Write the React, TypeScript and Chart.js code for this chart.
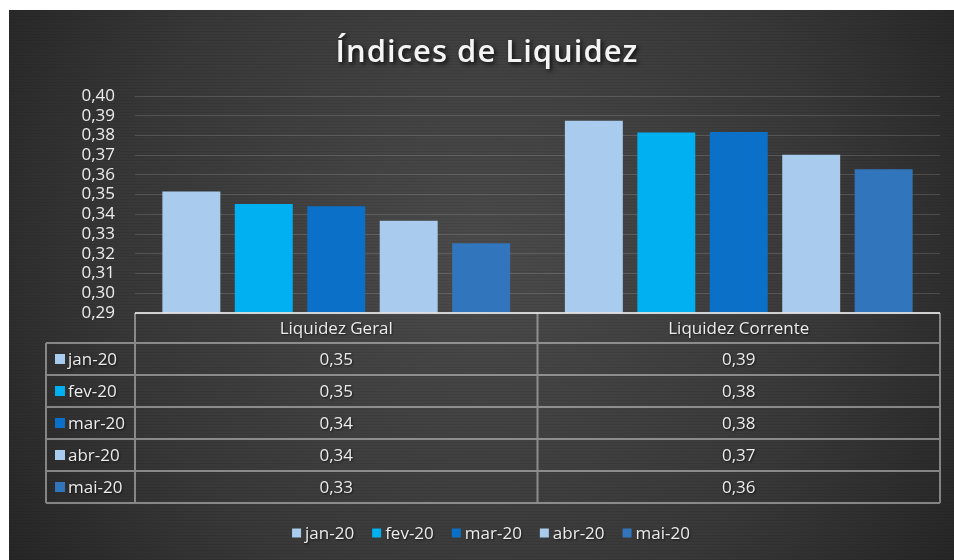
import React, { useEffect, useRef } from "react";
import { Chart, registerables } from "chart.js";

Chart.register(...registerables);

const TITLE = "Índices de Liquidez";
const categories = ["Liquidez Geral", "Liquidez Corrente"];
const seriesLabels = ["jan-20", "fev-20", "mar-20", "abr-20", "mai-20"];
const jan20 = [0.3516, 0.3875];
const fev20 = [0.3452, 0.3815];
const mar20 = [0.3441, 0.3817];
const abr20 = [0.3367, 0.3702];
const mai20 = [0.3254, 0.3629];
const seriesValues = [jan20, fev20, mar20, abr20, mai20];
const seriesColors = ["#A9CBEE", "#00B0F0", "#0A70C8", "#A9CBEE", "#3176BD"];
const yMin = 0.29;
const yMax = 0.4;
const yStep = 0.01;

const FONT = '"Open Sans", "DejaVu Sans", sans-serif';
const fmt = (v: number) => v.toFixed(2).replace(".", ",");

const bgPlugin = {
  id: "bgPlugin",
  beforeDraw(chart: any) {
    const { ctx, width, height } = chart;
    ctx.save();
    const g = ctx.createRadialGradient(width * 0.5, height * 0.45, 20, width * 0.5, height * 0.45, width * 0.62);
    g.addColorStop(0, "#4a4a4a");
    g.addColorStop(0.6, "#383838");
    g.addColorStop(1, "#242424");
    ctx.fillStyle = g;
    ctx.fillRect(0, 0, width, height);
    ctx.fillStyle = "rgba(0,0,0,0.06)";
    for (let y = 0; y < height; y += 3) {
      ctx.fillRect(0, y, width, 1);
    }
    ctx.restore();
  },
};

const tablePlugin = {
  id: "tablePlugin",
  afterDraw(chart: any) {
    const { ctx, chartArea } = chart;
    const { left, right, bottom } = chartArea;
    const keyLeft = 37;
    const headerH = 30;
    const rowH = 32;
    const n = categories.length;
    const colW = (right - left) / n;
    const tableBottom = bottom + headerH + rowH * seriesLabels.length;

    ctx.save();
    // title
    ctx.font = `600 31px ${FONT}`;
    (ctx as any).letterSpacing = "1px";
    ctx.textAlign = "center";
    ctx.textBaseline = "alphabetic";
    ctx.shadowColor = "rgba(0,0,0,0.8)";
    ctx.shadowBlur = 4;
    ctx.shadowOffsetX = 2;
    ctx.shadowOffsetY = 2;
    ctx.fillStyle = "#f4f4f4";
    ctx.fillText(TITLE, 478, 52);
    (ctx as any).letterSpacing = "0px";
    ctx.shadowColor = "transparent";
    ctx.shadowBlur = 0;
    ctx.shadowOffsetX = 0;
    ctx.shadowOffsetY = 0;

    // table lines
    ctx.strokeStyle = "rgba(205,205,205,0.55)";
    ctx.lineWidth = 2;
    ctx.beginPath();
    for (let i = 0; i <= seriesLabels.length; i++) {
      const y = bottom + headerH + i * rowH;
      ctx.moveTo(keyLeft, y);
      ctx.lineTo(right, y);
    }
    ctx.moveTo(keyLeft, bottom + headerH);
    ctx.lineTo(keyLeft, tableBottom);
    for (let c = 0; c <= n; c++) {
      const x = left + c * colW;
      ctx.moveTo(x, bottom);
      ctx.lineTo(x, tableBottom);
    }
    ctx.stroke();
    ctx.strokeStyle = "rgba(225,225,225,0.9)";
    ctx.beginPath();
    ctx.moveTo(left, bottom);
    ctx.lineTo(right, bottom);
    ctx.stroke();

    // header
    ctx.font = `17px ${FONT}`;
    ctx.textAlign = "center";
    ctx.textBaseline = "middle";
    ctx.fillStyle = "#ececec";
    ctx.shadowColor = "rgba(0,0,0,0.6)";
    ctx.shadowBlur = 2;
    ctx.shadowOffsetX = 1;
    ctx.shadowOffsetY = 1;
    categories.forEach((cat, c) => {
      ctx.fillText(cat, left + colW * (c + 0.5), bottom + headerH / 2 + 1);
    });
    // rows
    seriesLabels.forEach((lab, i) => {
      const cy = bottom + headerH + rowH * (i + 0.5);
      ctx.shadowColor = "transparent";
      ctx.fillStyle = seriesColors[i];
      ctx.fillRect(46, cy - 5, 10, 10);
      ctx.shadowColor = "rgba(0,0,0,0.6)";
      ctx.fillStyle = "#ececec";
      ctx.textAlign = "left";
      ctx.fillText(lab, 59, cy + 1);
      ctx.textAlign = "center";
      seriesValues[i].forEach((v, c) => {
        ctx.fillText(fmt(v), left + colW * (c + 0.5), cy + 1);
      });
    });

    // legend
    const box = 9;
    const gapBox = 4;
    const gapItem = 18;
    const widths = seriesLabels.map((l) => ctx.measureText(l).width);
    const total = widths.reduce((a, w) => a + box + gapBox + w, 0) + gapItem * (seriesLabels.length - 1);
    let x = 482 - total / 2;
    const ly = 523;
    ctx.textAlign = "left";
    seriesLabels.forEach((lab, i) => {
      ctx.shadowColor = "transparent";
      ctx.fillStyle = seriesColors[i];
      ctx.fillRect(x, ly - box / 2, box, box);
      x += box + gapBox;
      ctx.shadowColor = "rgba(0,0,0,0.6)";
      ctx.fillStyle = "#ececec";
      ctx.fillText(lab, x, ly + 1);
      x += widths[i] + gapItem;
    });
    ctx.restore();
  },
};

export default function App() {
  const ref = useRef<HTMLCanvasElement>(null);
  useEffect(() => {
    const chart = new Chart(ref.current as HTMLCanvasElement, {
      type: "bar",
      data: {
        labels: categories,
        datasets: seriesLabels.map((label, i) => ({
          label,
          data: seriesValues[i],
          backgroundColor: seriesColors[i],
          borderWidth: 0,
          categoryPercentage: 0.9,
          barPercentage: 0.8,
        })),
      },
      options: {
        responsive: false,
        animation: false,
        devicePixelRatio: 1,
        layout: { padding: { top: 86, bottom: 247, right: 14, left: 0 } },
        plugins: {
          legend: { display: false },
          title: { display: false },
          tooltip: { enabled: false },
        },
        scales: {
          x: { display: false },
          y: {
            min: yMin,
            max: yMax,
            afterFit: (scale: any) => {
              scale.width = 126;
            },
            border: { display: false },
            grid: { color: "rgba(255,255,255,0.14)", lineWidth: 1, drawTicks: false },
            ticks: {
              stepSize: yStep,
              autoSkip: false,
              padding: 20,
              color: "#ececec",
              font: { family: FONT, size: 17 },
              callback: (v: any) => fmt(Number(v)),
            },
          },
        },
      },
      plugins: [bgPlugin, tablePlugin],
    });
    return () => chart.destroy();
  }, []);
  return (
    <div style={{ position: "fixed", left: 0, top: 0, width: 954, height: 560, background: "#fff", overflow: "hidden" }}>
      <canvas
        ref={ref}
        width={945}
        height={550}
        style={{ position: "absolute", left: 9, top: 10, width: 945, height: 550, display: "block" }}
      />
    </div>
  );
}
